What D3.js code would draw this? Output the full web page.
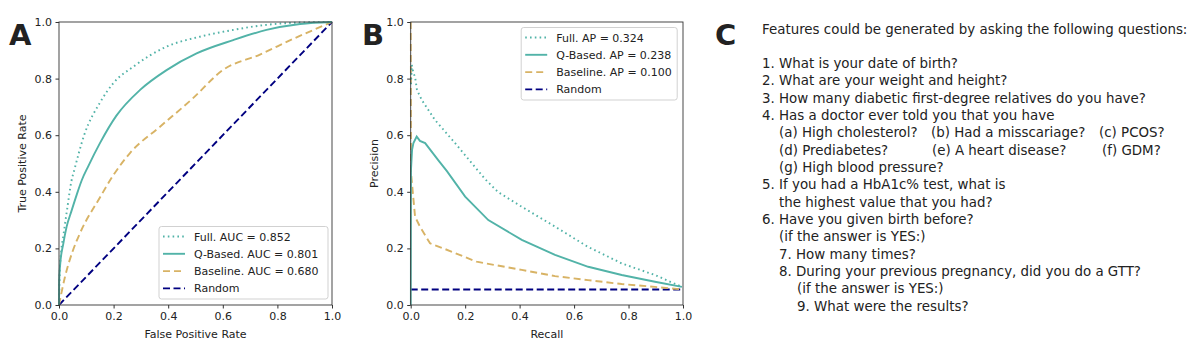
<!DOCTYPE html>
<html>
<head>
<meta charset="utf-8">
<script src="https://cdn.jsdelivr.net/npm/d3@7"></script>
<style>
  body { margin: 0; background: #fff; }
  text { font-family: "DejaVu Sans", sans-serif; fill: #222; }
</style>
</head>
<body>
<script>
// ROC curves, [false positive rate, true positive rate]
const rocFull = [[0,0],[0.003,0.12],[0.008,0.19],[0.016,0.245],[0.03,0.34],[0.046,0.44],[0.056,0.477],
  [0.092,0.6],[0.15,0.715],[0.2,0.785],[0.272,0.842],[0.394,0.913],[0.516,0.948],[0.638,0.972],[0.76,0.99],[0.88,0.998],[1,1]];
const rocQBased = [[0,0],[0.0005,0.08],[0.004,0.14],[0.016,0.218],[0.028,0.277],[0.045,0.33],[0.065,0.39],[0.083,0.44],
  [0.107,0.49],[0.15,0.572],[0.211,0.67],[0.297,0.76],[0.394,0.83],[0.504,0.889],[0.638,0.936],[0.76,0.972],[0.883,0.993],[1,1]];
const rocBaseline = [[0,0],[0.022,0.1],[0.05,0.19],[0.077,0.254],[0.15,0.38],[0.2,0.46],[0.26,0.537],[0.37,0.63],
  [0.49,0.73],[0.6,0.83],[0.736,0.885],[0.857,0.94],[1,1]];
const rocRandom = [[0,0],[1,1]];

// Precision-recall curves, [recall, precision]
const prFull = [[0.001,0.78],[0.004,0.848],[0.01,0.82],[0.016,0.806],[0.023,0.76],[0.041,0.724],[0.089,0.654],[0.163,0.572],
  [0.221,0.505],[0.273,0.445],[0.321,0.399],[0.408,0.347],[0.53,0.277],[0.65,0.206],[0.775,0.147],[0.897,0.106],[0.996,0.064]];
const prQBased = [[0,0],[0.001,0.477],[0.005,0.548],[0.01,0.572],[0.022,0.595],[0.034,0.58],[0.053,0.572],[0.101,0.512],
  [0.133,0.473],[0.2,0.383],[0.285,0.3],[0.408,0.23],[0.53,0.177],[0.652,0.135],[0.775,0.106],[0.897,0.082],[0.996,0.064]];
const prBaseline = [[0,1],[0.001,0.47],[0.007,0.406],[0.016,0.312],[0.034,0.277],[0.071,0.218],[0.12,0.2],[0.242,0.153],
  [0.408,0.124],[0.53,0.102],[0.651,0.088],[0.775,0.074],[0.897,0.064],[1,0.055]];
const prRandom = [[0,0.055],[1,0.055]];

const rocLabels = ["Full. AUC = 0.852", "Q-Based. AUC = 0.801", "Baseline. AUC = 0.680", "Random"];
const prLabels = ["Full. AP = 0.324", "Q-Based. AP = 0.238", "Baseline. AP = 0.100", "Random"];
const ticks = [0, 0.2, 0.4, 0.6, 0.8, 1.0];

const introText = "Features could be generated by asking the following questions:";
// [indent level, column texts]
const questionLines = [
  [0, ["1. What is your date of birth?"]],
  [0, ["2. What are your weight and height?"]],
  [0, ["3. How many diabetic first-degree relatives do you have?"]],
  [0, ["4. Has a doctor ever told you that you have"]],
  [1, ["(a) High cholesterol?", "(b) Had a misscariage?", "(c) PCOS?"]],
  [1, ["(d) Prediabetes?", "(e) A heart disease?", "(f) GDM?"]],
  [1, ["(g) High blood pressure?"]],
  [0, ["5. If you had a HbA1c% test, what is"]],
  [1, ["the highest value that you had?"]],
  [0, ["6. Have you given birth before?"]],
  [1, ["(if the answer is YES:)"]],
  [1, ["7. How many times?"]],
  [1, ["8. During your previous pregnancy, did you do a GTT?"]],
  [2, ["(if the answer is YES:)"]],
  [2, ["9. What were the results?"]]
];

const teal = "#52b3a8", tan = "#d8b365", navy = "#000080";
const styles = [
  { color: teal, dash: "1.6,3.2" },
  { color: teal, dash: null },
  { color: tan, dash: "7,4" },
  { color: navy, dash: "7,3.5" }
];

const svg = d3.select("body").append("svg")
  .attr("width", 1200)
  .attr("height", 351);

function drawPanel(opts) {
  const { left, top, width, height, series, labels, xLabel, yLabel, letter, legendPos, curve } = opts;
  const g = svg.append("g").attr("transform", `translate(${left},${top})`);

  const x = d3.scaleLinear().domain([0, 1]).range([0, width]);
  const y = d3.scaleLinear().domain([0, 1]).range([height, 0]);

  const clip = "clip" + letter;
  g.append("clipPath").attr("id", clip)
    .append("rect").attr("x", -1).attr("y", -1).attr("width", width + 2).attr("height", height + 2);

  const line = d3.line().curve(curve).x(d => x(d[0])).y(d => y(d[1]));

  // draw in reverse so Full sits on top
  series.map((s, i) => ({ s, i })).reverse().forEach(({ s, i }) => {
    g.append("path")
      .datum(s)
      .attr("clip-path", `url(#${clip})`)
      .attr("fill", "none")
      .attr("stroke", styles[i].color)
      .attr("stroke-width", 1.9)
      .attr("stroke-dasharray", styles[i].dash)
      .attr("d", line);
  });

  const xAxis = g.append("g")
    .attr("transform", `translate(0,${height})`)
    .call(d3.axisBottom(x).tickValues(ticks).tickFormat(d3.format(".1f")).tickSize(3.5).tickPadding(3.5));
  const yAxis = g.append("g")
    .call(d3.axisLeft(y).tickValues(ticks).tickFormat(d3.format(".1f")).tickSize(3.5).tickPadding(3.5));
  [xAxis, yAxis].forEach(a => {
    a.select(".domain").remove();
    a.selectAll("line").attr("stroke", "#333");
    a.selectAll("text").style("font-size", "11px").style("font-family", "DejaVu Sans").attr("fill", "#222");
  });

  // frame
  g.append("rect")
    .attr("width", width).attr("height", height)
    .attr("fill", "none").attr("stroke", "#333").attr("stroke-width", 0.9);

  g.append("text")
    .attr("x", width / 2).attr("y", height + 33)
    .attr("text-anchor", "middle")
    .style("font-size", "11px")
    .text(xLabel);

  g.append("text")
    .attr("transform", `translate(-33,${height / 2}) rotate(-90)`)
    .attr("text-anchor", "middle")
    .style("font-size", "11px")
    .text(yLabel);

  svg.append("text")
    .attr("x", opts.letterX).attr("y", 44.5)
    .style("font-size", "29px").style("font-weight", "bold")
    .attr("fill", "#000")
    .text(letter);

  // legend
  const lg = g.append("g").attr("transform", `translate(${legendPos[0]},${legendPos[1]})`);
  lg.append("rect")
    .attr("width", legendPos[2]).attr("height", 72.5)
    .attr("rx", 2.5)
    .attr("fill", "#fff").attr("fill-opacity", 0.85)
    .attr("stroke", "#ccc").attr("stroke-width", 0.9);
  labels.forEach((lab, i) => {
    const cy = 10 + i * 17.3;
    lg.append("line")
      .attr("x1", 4).attr("x2", 26)
      .attr("y1", cy).attr("y2", cy)
      .attr("stroke", styles[i].color)
      .attr("stroke-width", 1.9)
      .attr("stroke-dasharray", styles[i].dash);
    lg.append("text")
      .attr("x", 35).attr("y", cy + 4)
      .style("font-size", "11px")
      .text(lab);
  });
}

drawPanel({
  left: 59, top: 22, width: 273, height: 283,
  series: [rocFull, rocQBased, rocBaseline, rocRandom],
  labels: rocLabels,
  xLabel: "False Positive Rate", yLabel: "True Positive Rate",
  letter: "A", letterX: 9,
  legendPos: [100, 204.5, 169],
  curve: d3.curveMonotoneX
});

drawPanel({
  left: 410.7, top: 22, width: 272.3, height: 283,
  series: [prFull, prQBased, prBaseline, prRandom],
  labels: prLabels,
  xLabel: "Recall", yLabel: "Precision",
  letter: "B", letterX: 362,
  legendPos: [110.5, 5.5, 156],
  curve: d3.curveLinear
});

// Panel C: text
svg.append("text")
  .attr("x", 715).attr("y", 44.5)
  .style("font-size", "29px").style("font-weight", "bold")
  .attr("fill", "#000")
  .text("C");

const textSize = 13.4;
const textLeft = 762;
const indentX = [0, 17, 35];
const columnX = [0, 152, 320];

svg.append("text")
  .attr("x", textLeft).attr("y", 29 + 4.8)
  .style("font-size", textSize + "px")
  .text(introText);

questionLines.forEach(([level, cols], k) => {
  const cy = 63 + k * 17.35;
  cols.forEach((t, c) => {
    svg.append("text")
      .attr("x", textLeft + indentX[level] + columnX[c] + (c === 1 && k === 5 ? 1 : 0) + (c === 2 && k === 5 ? 3 : 0))
      .attr("y", cy + 4.8)
      .style("font-size", textSize + "px")
      .text(t);
  });
});
</script>
</body>
</html>
